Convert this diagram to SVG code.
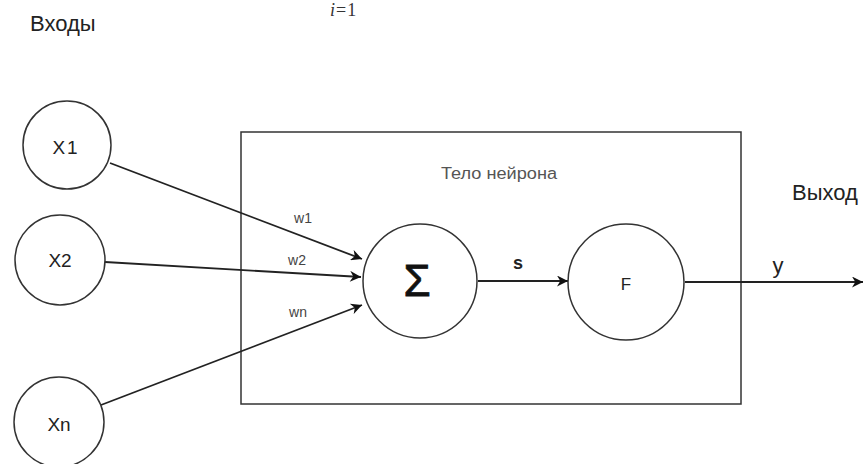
<svg xmlns="http://www.w3.org/2000/svg" width="863" height="464" viewBox="0 0 863 464">
<style>
.node{fill:#fff;stroke:#333;stroke-width:1.5}
.edge{fill:none;stroke:#222;stroke-width:1.8}
.t{font-family:"Liberation Sans",Arial,sans-serif;fill:#222}
.lbl{font-family:"Liberation Sans",Arial,sans-serif;fill:#444;font-size:14px;text-anchor:middle}
</style>
<defs>
<marker id="ah" viewBox="0 0 10 10" refX="10" refY="5" markerWidth="12" markerHeight="11" markerUnits="userSpaceOnUse" orient="auto">
<path d="M0,0 L10,5 L0,10 L3,5 Z" fill="#111"/>
</marker>
</defs>
<rect width="863" height="464" fill="#fff"/>
<text x="330" y="16" font-family="Liberation Serif,serif" font-size="18" fill="#333" letter-spacing="1"><tspan font-style="italic">i</tspan>=1</text>
<text class="t" x="30" y="31" font-size="22">Входы</text>
<text class="t" x="792" y="200" font-size="22">Выход</text>
<g id="body"><rect x="241" y="132" width="500" height="272" fill="none" stroke="#333" stroke-width="1.5"/>
<text x="499" y="179" font-family="Liberation Sans,Arial,sans-serif" font-size="16" fill="#555" text-anchor="middle" textLength="116" lengthAdjust="spacingAndGlyphs">Тело нейрона</text></g>
<g id="edges">
<line class="edge" x1="110" y1="163" x2="362" y2="259" marker-end="url(#ah)"/>
<line class="edge" x1="105" y1="262" x2="361" y2="277" marker-end="url(#ah)"/>
<line class="edge" x1="101" y1="405" x2="362" y2="305" marker-end="url(#ah)"/>
<line class="edge" x1="478" y1="281" x2="568" y2="281" marker-end="url(#ah)"/>
<line class="edge" x1="685" y1="282" x2="863" y2="282" marker-end="url(#ah)"/>
<text class="lbl" x="303" y="223">w1</text>
<text class="lbl" x="297" y="265">w2</text>
<text class="lbl" x="298" y="317">wn</text>
<text class="t" x="518" y="269" font-size="18" font-weight="bold" text-anchor="middle">s</text>
<text class="t" x="778" y="273" font-size="22" text-anchor="middle">y</text>
</g>
<g id="x1"><circle class="node" cx="67" cy="145" r="44"/><text class="t" x="66" y="154" font-size="19" text-anchor="middle" letter-spacing="2">X1</text></g>
<g id="x2"><circle class="node" cx="60" cy="260" r="45"/><text class="t" x="60" y="267" font-size="19" text-anchor="middle">X2</text></g>
<g id="xn"><circle class="node" cx="59" cy="422" r="45"/><text class="t" x="59" y="431" font-size="19" text-anchor="middle">Xn</text></g>
<g id="sum"><circle class="node" cx="420" cy="281" r="57"/><text x="417" y="296" font-family="Liberation Sans,Arial,sans-serif" font-size="44" fill="#111" stroke="#111" stroke-width="0.8" text-anchor="middle">Σ</text></g>
<g id="f"><circle class="node" cx="626" cy="282" r="58"/><text class="t" x="626" y="290" font-size="17" text-anchor="middle">F</text></g>
</svg>
